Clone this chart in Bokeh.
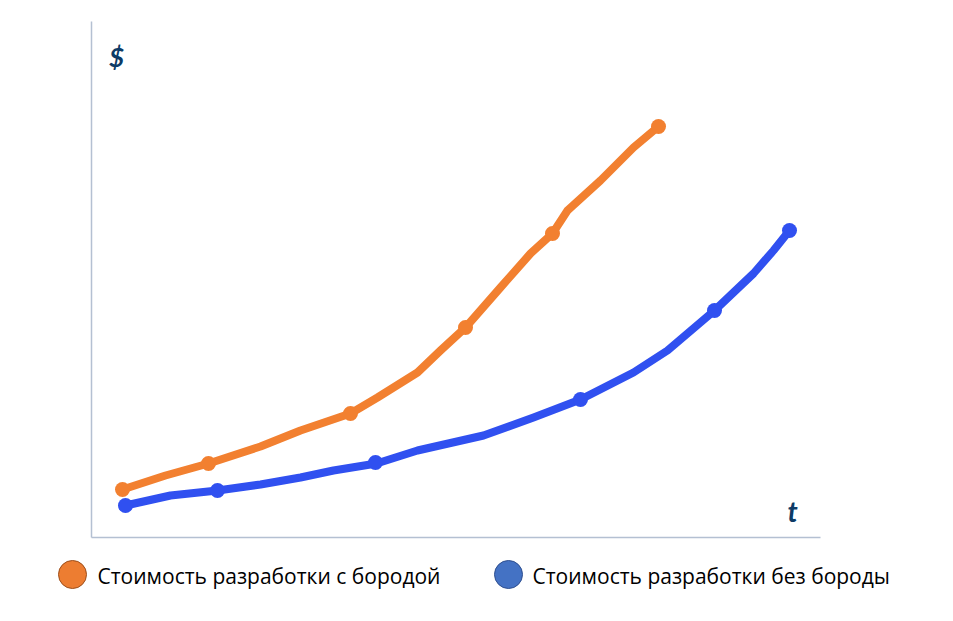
from bokeh.plotting import figure
from bokeh.models import Range1d
from bokeh.core.properties import value
from bokeh.embed import file_html
from bokeh.resources import INLINE

# Data (t units, $ units)
orange_t = [3.1, 11.7, 25.9, 37.4, 46.1, 56.7]
orange_c = [4.8, 7.4, 12.4, 21.0, 30.4, 41.1]
blue_t = [3.4, 12.6, 28.4, 48.9, 62.3, 69.8]
blue_c = [3.2, 4.7, 7.5, 13.8, 22.7, 30.7]

# traced hand-drawn curves
orange_line_t = [3.1, 7.4, 11.7, 16.9, 20.9, 25.9, 28.6, 32.6, 34.9, 37.4, 40.9, 43.9, 46.1, 47.6, 50.9, 54.2, 56.7]
orange_line_c = [4.8, 6.2, 7.4, 9.1, 10.7, 12.4, 14.0, 16.5, 18.7, 21.0, 25.0, 28.4, 30.4, 32.7, 35.7, 39.0, 41.1]
blue_line_t = [3.4, 7.9, 12.6, 16.9, 20.9, 24.2, 28.5, 32.6, 39.2, 44.2, 48.9, 54.2, 57.6, 62.3, 66.2, 68.2, 69.8]
blue_line_c = [3.2, 4.2, 4.7, 5.3, 6.0, 6.7, 7.4, 8.7, 10.2, 12.0, 13.8, 16.5, 18.7, 22.7, 26.4, 28.7, 30.7]

series_names = ["Стоимость разработки с бородой", "Стоимость разработки без бороды"]
axis_labels = ["$", "t"]

ORANGE = "#F28030"
BLUE = "#3050F0"
AXIS = "#b4c0d2"
NAVY = "#0d3b66"

p = figure(width=953, height=621, output_backend="svg", toolbar_location=None,
           x_range=Range1d(-9.1, 86.2), y_range=Range1d(-8.4, 53.7),
           min_border=0, outline_line_color=None)
p.axis.visible = False
p.grid.visible = False
p.background_fill_color = "white"
p.border_fill_color = "white"

# axes lines
p.segment(x0=[0, 0], y0=[0, 0], x1=[0, 72.9], y1=[51.6, 0], line_color=AXIS, line_width=1.5)

# curves
p.line(orange_line_t, orange_line_c, line_color=ORANGE, line_width=8, line_cap="round", line_join="round")
p.scatter(orange_t, orange_c, size=15, fill_color=ORANGE, line_color=None)
p.line(blue_line_t, blue_line_c, line_color=BLUE, line_width=8, line_cap="round", line_join="round")
p.scatter(blue_t, blue_c, size=15, fill_color=BLUE, line_color=None)

# axis labels
p.text(x=[2.5], y=[48.1], text=[axis_labels[0]], text_color=NAVY, text_font=value("Lato"),
       text_font_style="bold italic", text_font_size="26px", text_align="center", text_baseline="middle")
p.text(x=[70.1], y=[2.7], text=[axis_labels[1]], text_color=NAVY, text_font=value("Lato"),
       text_font_style="bold italic", text_font_size="28px", text_align="center", text_baseline="middle")

# legend
p.scatter(x=[-1.9, 41.7], y=[-3.7, -3.7], size=28, fill_color=["#ED7D31", "#4472C4"],
          line_color=["#9c4f1c", "#2f4f8f"], line_width=1)
p.text(x=[0.6, 44.1], y=[-3.8, -3.8], text=series_names, text_color="black",
       text_font=value("Open Sans"), text_font_size="21px", text_baseline="middle", text_align="left")

open("out.html", "w").write(file_html(p, INLINE))
